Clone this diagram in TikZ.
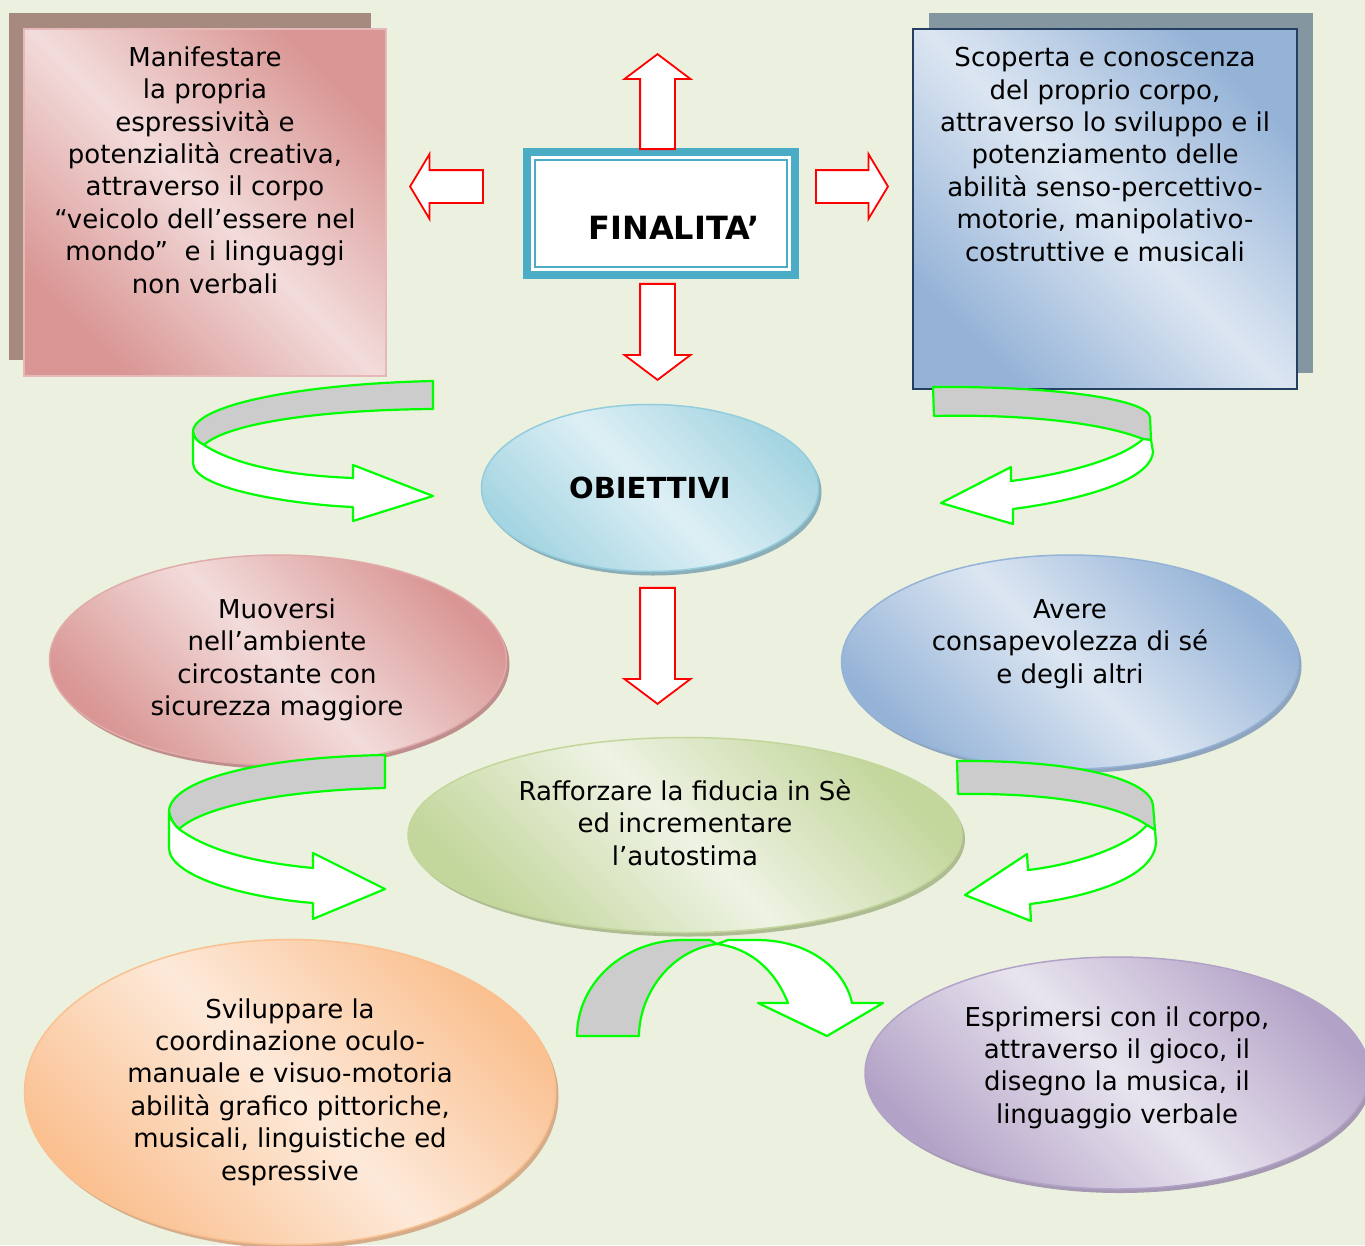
\documentclass[tikz,border=0pt]{standalone}
\usepackage{fontspec}
\setmainfont{DejaVu Sans}
\usetikzlibrary{shapes.geometric,shapes.arrows,shadows,positioning}

\definecolor{bg}{HTML}{EBF1DE}
\definecolor{finteal}{HTML}{4BACC6}
\definecolor{ribgreen}{HTML}{00FF00}
\definecolor{ribgray}{HTML}{CCCCCC}
\definecolor{pinkdk}{HTML}{D99694}
\definecolor{pinklt}{HTML}{F2DCDB}
\definecolor{pinkln}{HTML}{E6B9B8}
\definecolor{pinksh}{HTML}{A68A80}
\definecolor{bluedk}{HTML}{95B3D7}
\definecolor{bluelt}{HTML}{DCE6F2}
\definecolor{blueln}{HTML}{243F60}
\definecolor{bluesh}{HTML}{8497A0}
\definecolor{tealdk}{HTML}{A5D5E2}
\definecolor{teallt}{HTML}{DDEFF5}
\definecolor{tealln}{HTML}{93CDDD}
\definecolor{greendk}{HTML}{C3D69B}
\definecolor{greenlt}{HTML}{EEF3E4}
\definecolor{orangedk}{HTML}{FAC090}
\definecolor{orangelt}{HTML}{FDE9D9}
\definecolor{purpledk}{HTML}{B3A2C7}
\definecolor{purplelt}{HTML}{E8E4EE}

\tikzset{
  boxtxt/.style={align=center, inner sep=0pt, font=\fontsize{26}{32.4}\selectfont},
  bigtxt/.style={inner sep=0pt, font=\fontsize{32}{38}\selectfont\bfseries},
  % light band along the diagonal, dark corners
  band/.style 2 args={top color=#1, bottom color=#1, middle color=#2, shading angle=-45},
  sqbox/.style={rectangle, inner sep=0pt, minimum width=362pt, minimum height=347pt},
  ell/.style={ellipse, inner sep=0pt, line width=1.5pt},
  ellshadow/.style={general shadow={fill=#1, shadow xshift=3pt, shadow yshift=-4pt}},
  redarr/.style={single arrow, draw=red, fill=white, line width=1.8pt, inner sep=0pt},
  varr/.style={redarr, inner xsep=16.5pt, single arrow head extend=15.5pt, single arrow tip angle=106},
  harr/.style={redarr, inner ysep=15.5pt, single arrow head extend=16pt, single arrow tip angle=118},
  ribback/.style={draw=ribgreen, fill=ribgray, line width=2.2pt, line join=round},
  ribfront/.style={draw=ribgreen, fill=white, line width=2.2pt, line join=round}
}

\begin{document}
\begin{tikzpicture}[x=1pt,y=-1pt]
  \useasboundingbox (0,0) rectangle (1365,1245);
  \clip (0,0) rectangle (1365,1245);
  \fill[bg] (0,0) rectangle (1365,1245);

  % the two square boxes
  \node[sqbox, draw=pinkln, line width=1.5pt, band={pinkdk}{pinklt},
        general shadow={fill=pinksh, shadow xshift=-15pt, shadow yshift=16pt}]
        (lbox) at (205,202.5) {};
  \node[boxtxt] (ltxt) at (205,170) {Manifestare\\la propria\\espressività e\\potenzialità creativa,\\attraverso il corpo\\“veicolo dell’essere nel\\mondo”~ e i linguaggi\\non verbali};
  \node[sqbox, minimum width=384pt, minimum height=360pt, draw=blueln, line width=2pt, band={bluedk}{bluelt},
        general shadow={fill=bluesh, shadow xshift=16pt, shadow yshift=16pt}]
        (rbox) at (1105,209) {};
  \node[boxtxt] (rtxt) at (1105,154.5) {Scoperta e conoscenza\\del proprio corpo,\\attraverso lo sviluppo e il\\potenziamento delle\\abilità senso-percettivo-\\motorie, manipolativo-\\costruttive e musicali};

  % finalita
  \node[rectangle, fill=finteal, minimum width=276pt, minimum height=131pt, inner sep=0pt] (fin) at (661,213.5) {};
  \node[rectangle, fill=white, minimum width=260pt, minimum height=115pt, inner sep=0pt] (fininner) at (fin) {};
  \node[rectangle, draw=finteal, line width=1.5pt, minimum width=252pt, minimum height=107pt, inner sep=0pt] (finline) at (fin) {};
  \node[bigtxt] (fintxt) at (674,228) {FINALITA’};

  % red block arrows
  \node[varr, minimum height=95pt, shape border rotate=90, anchor=tip] (aup) at (657.5,53) {};
  \node[harr, minimum height=73pt, shape border rotate=180, anchor=tip] (aleft) at (409,186.5) {};
  \node[harr, minimum height=72pt, anchor=tip] (aright) at (889,186.5) {};
  \node[varr, minimum height=96pt, shape border rotate=270, anchor=tip] (adown) at (657.5,381) {};
  \node[varr, minimum height=116pt, shape border rotate=270, anchor=tip] (adown2) at (657.5,705) {};

  % ellipses
  \node[ell, minimum width=337pt, minimum height=167pt, draw=tealln, band={tealdk}{teallt},
        ellshadow=tealln!60!gray, font=\fontsize{29}{34}\selectfont\bfseries] (obj) at (650,488) {OBIETTIVI};
  \node[ell, minimum width=457pt, minimum height=210pt, draw=pinkdk!80, band={pinkdk}{pinklt},
        ellshadow=pinkdk!70!gray] (muov) at (278,660) {};
  \node[boxtxt] (muovtxt) at (277,660) {Muoversi\\nell’ambiente\\circostante con\\sicurezza maggiore};
  \node[ell, minimum width=457pt, minimum height=214pt, draw=bluedk, band={bluedk}{bluelt},
        ellshadow=bluedk!70!gray] (avere) at (1070,662) {};
  \node[boxtxt] (averetxt) at (1070,644) {Avere\\consapevolezza di sé\\e degli altri};
  \node[ell, minimum width=554pt, minimum height=195pt, draw=greendk, band={greendk}{greenlt},
        ellshadow=greendk!70!gray] (raff) at (685,835) {};
  \node[boxtxt] (rafftxt) at (685,822.5) {Rafforzare la fiducia in Sè\\ed incrementare\\l’autostima};
  \node[ell, minimum width=531pt, minimum height=305pt, draw=orangedk, band={orangedk}{orangelt},
        ellshadow=orangedk!70!gray] (svil) at (290,1092) {};
  \node[boxtxt] (sviltxt) at (290,1092) {Sviluppare la\\coordinazione oculo-\\manuale e visuo-motoria\\abilità grafico pittoriche,\\musicali, linguistiche ed\\espressive};
  \node[ell, minimum width=504pt, minimum height=232pt, draw=purpledk, band={purpledk}{purplelt},
        ellshadow=purpledk!70!gray] (espr) at (1117,1073) {};
  \node[boxtxt] (esprtxt) at (1117,1067.5) {Esprimersi con il corpo,\\attraverso il gioco, il\\disegno la musica, il\\linguaggio verbale};

  % curved ribbon arrows
  \draw[ribback] (433,381) .. controls (300,384) and (193,405) .. (193,432)
    .. controls (194,438) and (198,442) .. (204,445)
    .. controls (225,425) and (310,410) .. (433,409) -- cycle;
  \draw[ribfront] (193,432) .. controls (194,438) and (198,442) .. (204,445)
    .. controls (240,468) and (300,476) .. (353,478) -- (353,465) -- (433,496) -- (353,521) -- (353,507)
    .. controls (300,505) and (193,490) .. (193,463) -- cycle;

  \draw[ribback] (933,387) .. controls (1060,386) and (1148,400) .. (1150,417) -- (1151,440) -- (1143,439)
    .. controls (1100,422) and (1020,414) .. (934,416) -- cycle;
  \draw[ribfront] (1143,439) -- (1151,440) -- (1153,452)
    .. controls (1150,485) and (1060,503) .. (1013,509) -- (1013,524) -- (941,503) -- (1011,467) -- (1011,481)
    .. controls (1060,475) and (1120,460) .. (1143,439) -- cycle;

  \draw[ribback] (385,755) .. controls (260,757) and (169,780) .. (169,812)
    .. controls (170,818) and (174,825) .. (179,829)
    .. controls (205,805) and (290,790) .. (385,788) -- cycle;
  \draw[ribfront] (169,812) .. controls (170,818) and (174,825) .. (179,829)
    .. controls (210,852) and (260,863) .. (313,868) -- (313,853) -- (385,889) -- (313,919) -- (313,903)
    .. controls (240,897) and (169,875) .. (169,848) -- cycle;

  \draw[ribback] (957,761) .. controls (1080,760) and (1150,780) .. (1153,805) -- (1155,830) -- (1147,825)
    .. controls (1110,800) and (1030,793) .. (958,794) -- cycle;
  \draw[ribfront] (1147,825) -- (1155,830) -- (1156,842)
    .. controls (1155,880) and (1080,898) .. (1030,904) -- (1031,921) -- (965,895) -- (1027,854) -- (1028,870)
    .. controls (1080,864) and (1130,845) .. (1147,825) -- cycle;

  \draw[ribback] (577,1036) .. controls (577,983) and (624,940) .. (683,940) -- (710,940) -- (717,944)
    .. controls (670,950) and (639,995) .. (639,1036) -- cycle;
  \draw[ribfront] (717,944) -- (728,940) -- (757,940) .. controls (810,940) and (845,970) .. (852,1003)
    -- (883,1003) -- (827,1036) -- (758,1003) -- (788,1003)
    .. controls (775,970) and (750,948) .. (717,944) -- cycle;
\end{tikzpicture}
\end{document}
